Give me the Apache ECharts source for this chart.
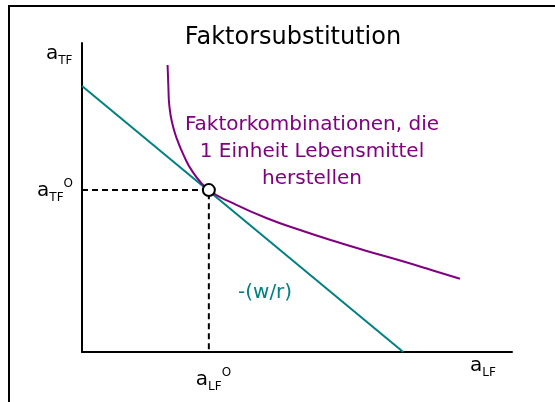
<!DOCTYPE html>
<html>
<head>
<meta charset="utf-8">
<script src="https://cdn.jsdelivr.net/npm/echarts@6/dist/echarts.min.js"></script>
<style>
  html, body { margin: 0; padding: 0; background: #fff; }
  #chart { width: 555px; height: 402px; }
</style>
</head>
<body>
<div id="chart"></div>
<script>
// Isoquante (Faktorkombinationen fuer 1 Einheit Lebensmittel), x = aLF, y = aTF
const curveX = [1.99, 2.01, 2.03, 2.09, 2.20, 2.36, 2.57, 2.95, 3.52, 4.30, 5.07, 5.84, 6.62, 7.40, 8.16, 8.79]
const curveY = [9.29, 8.53, 7.99, 7.45, 6.92, 6.38, 5.84, 5.24, 4.81, 4.33, 3.95, 3.60, 3.27, 2.96, 2.64, 2.37]
// Isokostengerade -(w/r)
const costX = [0, 7.47]
const costY = [8.61, 0]
// Optimum
const optX = 2.95
const optY = 5.24

const teal = '#008080'
const purple = '#800080'
const font = 'DejaVu Sans'

const chart = echarts.init(document.getElementById('chart'))

const labelRich = {
  a: { fontSize: 20, lineHeight: 26, fontFamily: font, color: '#000' },
  s: { fontSize: 12, lineHeight: 12, verticalAlign: 'bottom', fontFamily: font, color: '#000' },
  o: { fontSize: 12, lineHeight: 20, verticalAlign: 'top', fontFamily: font, color: '#000' }
}

function richText (x, y, text, align) {
  return {
    type: 'text',
    x: x,
    y: y,
    z: 10,
    style: {
      text: text,
      rich: labelRich,
      align: align,
      verticalAlign: 'middle',
      fill: '#000'
    }
  }
}

const option = {
  animation: false,
  backgroundColor: '#fff',
  grid: { left: 82, right: 43, top: 43, bottom: 50 },
  xAxis: {
    type: 'value', min: 0, max: 10,
    axisLine: { show: true, lineStyle: { color: '#000', width: 2 } },
    axisTick: { show: false },
    axisLabel: { show: false },
    splitLine: { show: false }
  },
  yAxis: {
    type: 'value', min: 0, max: 10,
    axisLine: { show: true, lineStyle: { color: '#000', width: 2 } },
    axisTick: { show: false },
    axisLabel: { show: false },
    splitLine: { show: false }
  },
  series: [
    {
      type: 'line',
      data: costX.map((x, i) => [x, costY[i]]),
      symbol: 'none',
      lineStyle: { color: teal, width: 2 },
      z: 2
    },
    {
      type: 'line',
      data: curveX.map((x, i) => [x, curveY[i]]),
      symbol: 'none',
      smooth: 0.5,
      lineStyle: { color: purple, width: 2 },
      z: 3
    },
    {
      type: 'line',
      data: [[0, optY], [optX, optY], [optX, 0]],
      symbol: 'none',
      lineStyle: { color: '#000', width: 2, type: [6, 4] },
      z: 1
    },
    {
      type: 'scatter',
      data: [[optX, optY]],
      symbol: 'circle',
      symbolSize: 12,
      itemStyle: { color: '#fff', borderColor: '#000', borderWidth: 2, opacity: 1 },
      z: 5
    }
  ]
}
chart.setOption(option)

// Beschriftungen an Achsen und Optimum koppeln
const pOpt = chart.convertToPixel({ gridIndex: 0 }, [optX, optY])
const pEnd = chart.convertToPixel({ gridIndex: 0 }, [10, 0])
const pTop = chart.convertToPixel({ gridIndex: 0 }, [0, 10])

chart.setOption({
  graphic: [
    // Rahmen
    { type: 'line', shape: { x1: 8, y1: 6, x2: 555, y2: 6 }, style: { stroke: '#000', lineWidth: 2 } },
    { type: 'line', shape: { x1: 9, y1: 6, x2: 9, y2: 402 }, style: { stroke: '#000', lineWidth: 2 } },
    {
      type: 'text', x: 293, y: 38,
      style: { text: 'Faktorsubstitution', fontSize: 24, fontFamily: font, fill: '#000', align: 'center', verticalAlign: 'middle' }
    },
    {
      type: 'text', x: 312, y: 152,
      style: {
        text: 'Faktorkombinationen, die\n1 Einheit Lebensmittel\nherstellen',
        fontSize: 20, lineHeight: 27, fontFamily: font, fill: purple, align: 'center', verticalAlign: 'middle'
      }
    },
    {
      type: 'text', x: 238, y: 293,
      style: { text: '-(w/r)', fontSize: 20, fontFamily: font, fill: teal, align: 'left', verticalAlign: 'middle' }
    },
    richText(pTop[0] - 36, pTop[1] + 10.5, '{a|a}{s|TF}', 'left'),
    richText(pTop[0] - 9, pOpt[1] + 1, '{a|a}{s|TF}{o|O}', 'right'),
    richText(pOpt[0] - 13, pOpt[1] + 189.5, '{a|a}{s|LF}{o|O}', 'left'),
    richText(pEnd[0] - 42, pEnd[1] + 14, '{a|a}{s|LF}', 'left')
  ]
})
</script>
</body>
</html>
